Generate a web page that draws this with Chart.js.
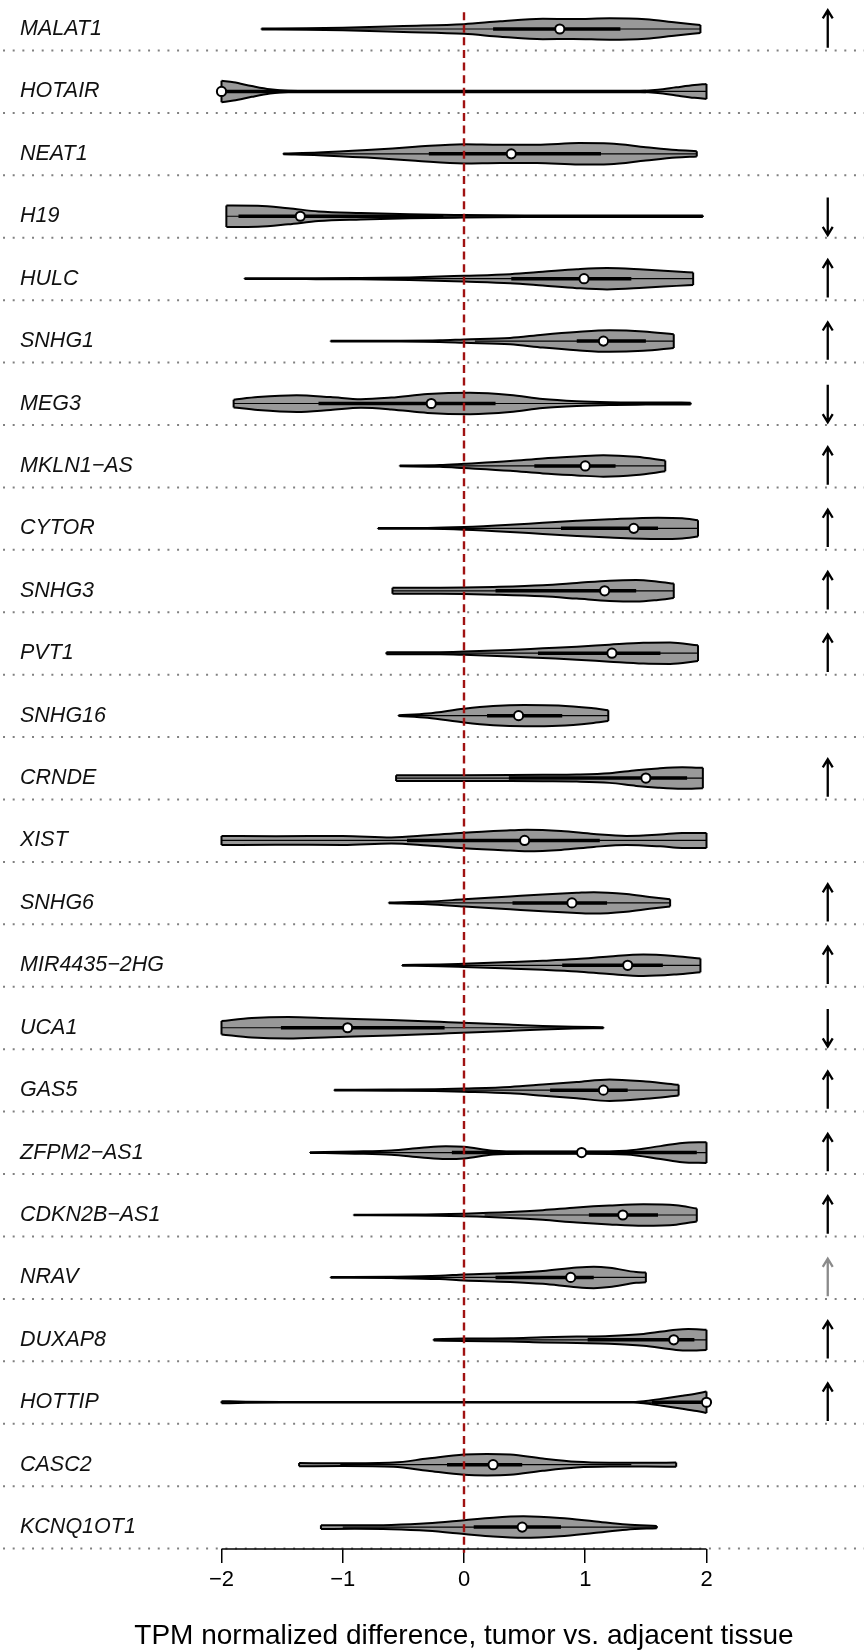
<!DOCTYPE html>
<html>
<head>
<meta charset="utf-8">
<script src="https://cdn.jsdelivr.net/npm/chart.js@4.4.1/dist/chart.umd.min.js"></script>
<style>
  html, body { margin: 0; padding: 0; background: #fff; overflow: hidden; }
  #wrap { width: 864px; height: 1650px; position: relative; }
  #chart { display: block; }
</style>
</head>
<body>
<div id="wrap"><canvas id="chart"></canvas></div>
<script>
// lncRNAs, top to bottom
const genes = ['MALAT1', 'HOTAIR', 'NEAT1', 'H19', 'HULC', 'SNHG1', 'MEG3', 'MKLN1-AS',
  'CYTOR', 'SNHG3', 'PVT1', 'SNHG16', 'CRNDE', 'XIST', 'SNHG6', 'MIR4435-2HG', 'UCA1',
  'GAS5', 'ZFPM2-AS1', 'CDKN2B-AS1', 'NRAV', 'DUXAP8', 'HOTTIP', 'CASC2', 'KCNQ1OT1'];

// box statistics per gene
const medians = [0.79, -2.0, 0.39, -1.35, 0.99, 1.15, -0.27, 1.0, 1.4, 1.16, 1.22, 0.45, 1.5,
  0.5, 0.89, 1.35, -0.96, 1.15, 0.97, 1.31, 0.88, 1.73, 2.0, 0.24, 0.48];
const q1 = [0.24, -2.0, -0.29, -1.86, 0.39, 0.93, -1.2, 0.58, 0.8, 0.26, 0.61, 0.19, 0.37,
  -0.47, 0.4, 0.81, -1.51, 0.71, -0.1, 1.03, 0.26, 1.02, 1.55, -0.14, 0.08];
const q3 = [1.29, 1.5, 1.13, -0.17, 1.38, 1.5, 0.26, 1.25, 1.6, 1.42, 1.62, 0.81, 1.84,
  1.12, 1.18, 1.64, -0.16, 1.35, 1.92, 1.6, 1.07, 1.9, 2.0, 0.48, 0.8];
const whiskerLo = [-1.3, -2.0, -1.49, -1.96, -1.09, 0.09, -1.9, -0.44, -0.39, -0.59, -0.64,
  -0.54, -0.56, -2.0, -0.62, -0.51, -2.0, -0.24, -1.27, 0.17, -0.95, -0.25, -2.0, -1.02, -1.0];
const whiskerHi = [1.95, 2.0, 1.92, 1.97, 1.89, 1.73, 1.87, 1.66, 1.93, 1.73, 1.93, 1.19,
  1.97, 2.0, 1.7, 1.95, 1.15, 1.77, 2.0, 1.92, 1.5, 2.0, 2.0, 1.38, 1.59];

// reported direction of change in the literature ('weak' = grey arrow)
const trend = ['up', '', '', 'down', 'up', 'up', 'down', 'up', 'up', 'up', 'up', '', 'up', '',
  'up', 'up', 'down', 'up', 'up', 'up', 'weak', 'up', 'up', '', ''];

// kernel density outline: [difference, relative density] pairs, one list per gene
const densities = [
  [[-1.67, 0.04], [-1.3, 0.06], [-1.0, 0.12], [-0.5, 0.28], [0, 0.45], [0.3, 0.72], [0.65, 0.95], [0.9, 0.93], [1.2, 1.0], [1.5, 0.9], [1.75, 0.6], [1.95, 0.38]],
  [[-2.0, 1.0], [-1.9, 0.85], [-1.75, 0.5], [-1.6, 0.2], [-1.45, 0.06], [-1.0, 0.03], [0, 0.03], [1.0, 0.03], [1.45, 0.05], [1.6, 0.15], [1.75, 0.38], [1.9, 0.6], [2.0, 0.7]],
  [[-1.49, 0.04], [-1.2, 0.12], [-0.8, 0.35], [-0.4, 0.65], [0, 0.9], [0.3, 0.85], [0.6, 0.85], [0.95, 1.0], [1.2, 0.97], [1.5, 0.62], [1.75, 0.35], [1.92, 0.25]],
  [[-1.96, 1.0], [-1.7, 0.98], [-1.45, 0.75], [-1.2, 0.45], [-0.85, 0.3], [-0.45, 0.18], [0, 0.12], [0.5, 0.08], [1.0, 0.07], [1.5, 0.07], [1.97, 0.07]],
  [[-1.81, 0.03], [-1.3, 0.04], [-0.9, 0.06], [-0.45, 0.12], [0, 0.27], [0.38, 0.42], [0.65, 0.64], [0.93, 0.88], [1.18, 1.0], [1.48, 0.85], [1.75, 0.67], [1.89, 0.58]],
  [[-1.1, 0.03], [-0.6, 0.04], [-0.2, 0.08], [0, 0.16], [0.38, 0.3], [0.65, 0.6], [0.93, 0.85], [1.2, 1.0], [1.48, 0.9], [1.73, 0.64]],
  [[-1.9, 0.36], [-1.7, 0.6], [-1.38, 0.78], [-1.1, 0.6], [-0.85, 0.4], [-0.6, 0.55], [-0.3, 0.88], [0.05, 1.0], [0.38, 0.8], [0.65, 0.42], [0.93, 0.22], [1.2, 0.13], [1.5, 0.1], [1.87, 0.08]],
  [[-0.53, 0.03], [-0.2, 0.08], [0, 0.2], [0.38, 0.45], [0.65, 0.7], [0.93, 0.88], [1.15, 1.0], [1.42, 0.85], [1.66, 0.5]],
  [[-0.71, 0.03], [-0.3, 0.04], [0, 0.12], [0.38, 0.33], [0.65, 0.52], [0.93, 0.7], [1.2, 0.85], [1.6, 1.0], [1.8, 0.95], [1.93, 0.76]],
  [[-0.59, 0.28], [-0.2, 0.28], [0, 0.3], [0.24, 0.36], [0.65, 0.52], [0.93, 0.73], [1.2, 0.94], [1.42, 1.0], [1.6, 0.85], [1.73, 0.67]],
  [[-0.64, 0.1], [-0.2, 0.1], [0, 0.15], [0.38, 0.3], [0.65, 0.45], [0.93, 0.6], [1.2, 0.79], [1.48, 0.97], [1.7, 1.0], [1.93, 0.73]],
  [[-0.54, 0.03], [-0.3, 0.2], [0, 0.65], [0.24, 0.9], [0.5, 1.0], [0.78, 0.95], [1.05, 0.7], [1.19, 0.5]],
  [[-0.56, 0.27], [0, 0.27], [0.38, 0.28], [0.65, 0.3], [0.93, 0.33], [1.2, 0.45], [1.42, 0.73], [1.6, 0.9], [1.8, 1.0], [1.97, 0.95]],
  [[-2.0, 0.42], [-1.55, 0.4], [-1.0, 0.42], [-0.6, 0.28], [-0.3, 0.48], [0, 0.73], [0.38, 0.94], [0.52, 1.0], [0.8, 0.88], [1.07, 0.6], [1.34, 0.42], [1.62, 0.55], [1.8, 0.7], [2.0, 0.7]],
  [[-0.62, 0.03], [-0.3, 0.12], [0, 0.33], [0.38, 0.6], [0.65, 0.79], [0.93, 0.94], [1.07, 1.0], [1.34, 0.82], [1.53, 0.55], [1.7, 0.33]],
  [[-0.51, 0.03], [-0.2, 0.08], [0, 0.15], [0.38, 0.3], [0.65, 0.42], [0.93, 0.58], [1.2, 0.82], [1.48, 1.0], [1.75, 0.85], [1.95, 0.64]],
  [[-2.0, 0.62], [-1.75, 0.9], [-1.45, 1.0], [-1.1, 0.88], [-0.6, 0.72], [-0.2, 0.55], [0.1, 0.42], [0.4, 0.28], [0.65, 0.16], [0.9, 0.08], [1.15, 0.05]],
  [[-1.07, 0.03], [-0.6, 0.05], [-0.24, 0.08], [0, 0.15], [0.38, 0.3], [0.65, 0.52], [0.93, 0.76], [1.2, 1.0], [1.5, 0.8], [1.77, 0.5]],
  [[-1.27, 0.03], [-0.9, 0.1], [-0.6, 0.2], [-0.35, 0.45], [-0.15, 0.6], [0, 0.55], [0.24, 0.18], [0.5, 0.1], [1.0, 0.1], [1.34, 0.18], [1.62, 0.6], [1.8, 0.9], [2.0, 0.97]],
  [[-0.91, 0.03], [-0.4, 0.04], [0, 0.12], [0.38, 0.27], [0.65, 0.45], [0.93, 0.7], [1.2, 0.88], [1.48, 1.0], [1.75, 0.9], [1.92, 0.6]],
  [[-1.1, 0.03], [-0.6, 0.06], [-0.2, 0.15], [0, 0.28], [0.38, 0.42], [0.65, 0.6], [0.93, 0.92], [1.07, 1.0], [1.2, 0.9], [1.42, 0.5], [1.5, 0.45]],
  [[-0.25, 0.06], [0, 0.12], [0.38, 0.15], [0.65, 0.24], [0.93, 0.3], [1.2, 0.36], [1.48, 0.55], [1.75, 0.94], [1.85, 1.0], [2.0, 0.94]],
  [[-2.0, 0.1], [-1.8, 0.05], [-1.5, 0.03], [0, 0.03], [1.4, 0.03], [1.5, 0.12], [1.65, 0.35], [1.8, 0.6], [1.92, 0.82], [2.0, 1.0]],
  [[-1.36, 0.15], [-1.0, 0.13], [-0.58, 0.2], [-0.3, 0.57], [0, 0.94], [0.19, 1.0], [0.38, 0.94], [0.65, 0.57], [0.93, 0.27], [1.2, 0.18], [1.5, 0.17], [1.75, 0.2]],
  [[-1.18, 0.18], [-0.9, 0.16], [-0.6, 0.2], [-0.3, 0.35], [0, 0.64], [0.24, 0.88], [0.49, 1.0], [0.79, 0.85], [1.07, 0.55], [1.34, 0.24], [1.59, 0.1]]
];

const xTicks = [-2, -1, 0, 1, 2];
const xTitle = 'TPM normalized difference, tumor vs. adjacent tissue';

// plot window: x is symmetric about zero so the axis title centres on it,
// the strip left of the plot holds the gene names
const LABEL_STRIP = 64;
const X_MAX = 3.299, X_MIN = -X_MAX;
const X_LEFT_EDGE = -3.802;   // where the dotted separators start
const Y_MIN = -0.4646, Y_MAX = 24.351;
const HALF = 0.172;      // half height of a violin at its peak density
const SEP = 0.344;       // offset of the dotted separator below each row
const ARROW_X = 3.0;
const FONT = "'Liberation Sans', Arial, Helvetica, sans-serif";

const minus = s => String(s).replace(/-/g, '\u2212');
const gap = x => ({ x: x, y: null });

const base = {
  type: 'line', pointRadius: 0, fill: false, tension: 0, clip: false,
  borderColor: '#000', borderWidth: 2
};

const datasets = [];

// dotted separators between rows
const sepPts = [];
genes.forEach((g, i) => {
  sepPts.push({ x: X_LEFT_EDGE, y: i + SEP }, { x: X_MAX, y: i + SEP }, gap(X_MAX));
});
datasets.push({ ...base, data: sepPts, borderColor: '#808080', borderWidth: 2,
  borderDash: [2, 7.67], order: 30 });

// violin bodies: upper and lower outline, filled between
const capPts = [];
densities.forEach((knots, i) => {
  const upper = knots.map(([x, w]) => ({ x: x, y: i - w * HALF }));
  const lower = knots.map(([x, w]) => ({ x: x, y: i + w * HALF }));
  datasets.push({ ...base, data: upper, cubicInterpolationMode: 'monotone', order: 20 });
  datasets.push({ ...base, data: lower, cubicInterpolationMode: 'monotone', order: 20,
    fill: '-1', backgroundColor: '#999999' });
  const first = knots[0], last = knots[knots.length - 1];
  capPts.push({ x: first[0], y: i - first[1] * HALF }, { x: first[0], y: i + first[1] * HALF }, gap(first[0]));
  capPts.push({ x: last[0], y: i - last[1] * HALF }, { x: last[0], y: i + last[1] * HALF }, gap(last[0]));
});
datasets.push({ ...base, data: capPts, order: 19 });

// whiskers
const whiskPts = [];
genes.forEach((g, i) => {
  whiskPts.push({ x: whiskerLo[i], y: i }, { x: whiskerHi[i], y: i }, gap(whiskerHi[i]));
});
datasets.push({ ...base, data: whiskPts, borderWidth: 1.2, order: 6 });

// interquartile bars
const iqrPts = [];
genes.forEach((g, i) => {
  iqrPts.push({ x: q1[i], y: i }, { x: q3[i], y: i }, gap(q3[i]));
});
datasets.push({ ...base, data: iqrPts, borderWidth: 3.5, order: 5 });

// zero line
datasets.push({ ...base, data: [{ x: 0, y: -0.27 }, { x: 0, y: Y_MAX + 0.06 }],
  borderColor: '#a01212', borderWidth: 2.4, borderDash: [8, 4.6], order: 3 });

// medians
datasets.push({ ...base, data: medians.map((m, i) => ({ x: m, y: i })), showLine: false,
  pointRadius: 4.6, pointBackgroundColor: '#fff', pointBorderColor: '#000',
  pointBorderWidth: 2, order: 2 });

// trend arrows: black for 'up'/'down', grey for 'weak'
function arrowPoints(kinds) {
  const pts = [];
  const dx = 0.041, dy = 0.13;
  trend.forEach((t, i) => {
    if (!kinds.includes(t)) return;
    const s = t === 'down' ? -1 : 1;
    const tip = i - 0.3 * s;
    pts.push({ x: ARROW_X, y: i + 0.3 * s }, { x: ARROW_X, y: tip }, gap(ARROW_X));
    pts.push({ x: ARROW_X - dx, y: tip + dy * s }, { x: ARROW_X, y: tip },
      { x: ARROW_X + dx, y: tip + dy * s }, gap(ARROW_X));
  });
  return pts;
}
datasets.push({ ...base, data: arrowPoints(['up', 'down']), borderWidth: 2.3, order: 1 });
datasets.push({ ...base, data: arrowPoints(['weak']), borderColor: '#8a8a8a', borderWidth: 2.3, order: 1 });

// x axis baseline, only across the tick range
datasets.push({ ...base, data: [{ x: xTicks[0], y: Y_MAX }, { x: xTicks[xTicks.length - 1], y: Y_MAX }],
  borderWidth: 1.5, order: 1 });

new Chart(document.getElementById('chart'), {
  type: 'line',
  data: { datasets: datasets },
  options: {
    responsive: true,
    maintainAspectRatio: false,
    animation: false,
    events: [],
    layout: { padding: 0, autoPadding: false },
    plugins: {
      legend: { display: false },
      tooltip: { enabled: false }
    },
    scales: {
      x: {
        type: 'linear',
        min: X_MIN,
        max: X_MAX,
        afterBuildTicks: scale => { scale.ticks = xTicks.map(v => ({ value: v })); },
        afterFit: scale => {
          scale.height = 101;
          scale.paddingLeft = 0;
          scale.paddingRight = 0;
        },
        ticks: {
          autoSkip: false,
          maxRotation: 0,
          padding: 4,
          color: '#000',
          font: { family: FONT, size: 22 },
          callback: v => minus(v)
        },
        grid: {
          drawOnChartArea: false,
          drawTicks: true,
          tickLength: 14,
          color: '#000',
          lineWidth: 1.5
        },
        border: { display: false },
        title: {
          display: true,
          text: xTitle,
          color: '#000',
          padding: 0,
          font: { family: FONT, size: 28, lineHeight: 1 }
        }
      },
      y: {
        type: 'linear',
        reverse: true,
        min: Y_MIN,
        max: Y_MAX,
        afterBuildTicks: scale => { scale.ticks = genes.map((g, i) => ({ value: i })); },
        afterFit: scale => {
          scale.width = LABEL_STRIP;
          scale.paddingTop = 0;
          scale.paddingBottom = 0;
        },
        ticks: {
          mirror: true,
          autoSkip: false,
          padding: 20 - LABEL_STRIP,
          color: '#111',
          font: { family: FONT, size: 21.5, style: 'italic' },
          callback: v => minus(genes[v])
        },
        grid: { display: false },
        border: { display: false }
      }
    }
  }
});
</script>
</body>
</html>
